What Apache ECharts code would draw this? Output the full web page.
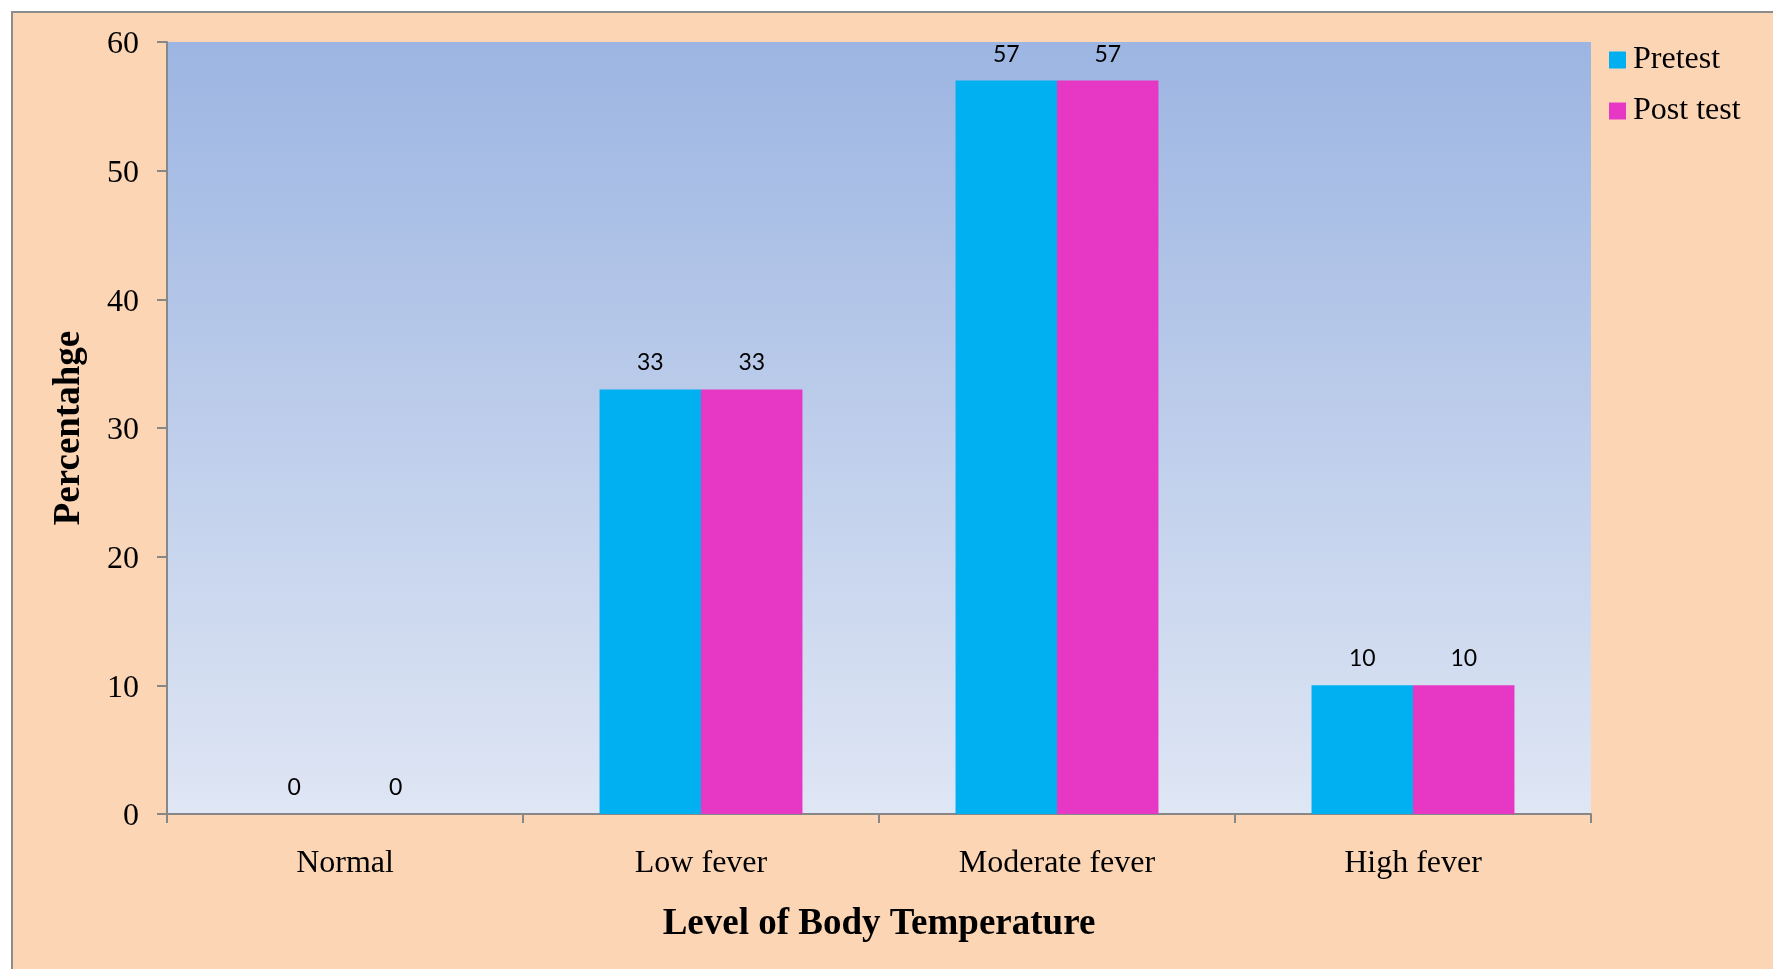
<!DOCTYPE html>
<html>
<head>
<meta charset="utf-8">
<title>Level of Body Temperature</title>
<script src="https://cdn.jsdelivr.net/npm/echarts@6/dist/echarts.min.js"></script>
<style>
  html, body { margin: 0; padding: 0; background: #ffffff; }
  #chart { width: 1773px; height: 969px; }
</style>
</head>
<body>
<div id="chart"></div>
<script>
// Categories of body temperature and the share of subjects (%) in each
const categories = ['Normal', 'Low fever', 'Moderate fever', 'High fever'];
const pretest = [0, 33, 57, 10];
const posttest = [0, 33, 57, 10];
const seriesNames = ['Pretest', 'Post test'];
const yTicks = { min: 0, max: 60, interval: 10 };

const SERIF = '"Liberation Serif", "Times New Roman", serif';
const SANS = 'Lato, "Open Sans", sans-serif';
const AXIS_GRAY = '#878787';

const chart = echarts.init(document.getElementById('chart'), null, { renderer: 'canvas' });

const valueLabel = {
  show: true,
  position: 'top',
  distance: 15,
  color: '#000000',
  fontFamily: SANS,
  fontSize: 23
};

chart.setOption({
  backgroundColor: '#ffffff',
  animation: false,
  graphic: [{
    type: 'rect',
    z: -10,
    silent: true,
    shape: { x: 12, y: 12, width: 1900, height: 1100 },
    style: { fill: '#fcd5b5', stroke: '#8c8c8c', lineWidth: 2 }
  }],
  legend: {
    orient: 'vertical',
    left: 1604,
    top: 39,
    itemWidth: 17,
    itemHeight: 17,
    itemGap: 19,
    icon: 'rect',
    textStyle: {
      fontFamily: SERIF,
      fontSize: 32,
      lineHeight: 32,
      color: '#000000',
      padding: [0, 0, 0, 2]
    },
    data: seriesNames
  },
  grid: {
    left: 167,
    top: 42,
    right: 182,
    bottom: 155,
    show: true,
    borderWidth: 0,
    backgroundColor: new echarts.graphic.LinearGradient(0, 0, 0, 1, [
      { offset: 0, color: '#9cb5e2' },
      { offset: 1, color: '#dfe6f4' }
    ])
  },
  xAxis: {
    type: 'category',
    data: categories,
    name: 'Level of Body Temperature',
    nameLocation: 'middle',
    nameGap: 92,
    nameTextStyle: {
      fontFamily: SERIF,
      fontSize: 37,
      fontWeight: 'bold',
      color: '#000000'
    },
    axisLine: { show: true, lineStyle: { color: AXIS_GRAY, width: 2 } },
    axisTick: { show: true, alignWithLabel: false, length: 9, lineStyle: { color: AXIS_GRAY, width: 2 } },
    axisLabel: {
      margin: 34,
      fontFamily: SERIF,
      fontSize: 32,
      color: '#000000'
    },
    splitLine: { show: false }
  },
  yAxis: {
    type: 'value',
    min: yTicks.min,
    max: yTicks.max,
    interval: yTicks.interval,
    name: 'Percentahge',
    nameLocation: 'middle',
    nameGap: 79,
    nameRotate: 90,
    nameTextStyle: {
      fontFamily: SERIF,
      fontSize: 37,
      fontWeight: 'bold',
      color: '#000000'
    },
    axisLine: { show: true, lineStyle: { color: AXIS_GRAY, width: 2 } },
    axisTick: { show: true, length: 10, lineStyle: { color: AXIS_GRAY, width: 2 } },
    axisLabel: {
      margin: 28,
      formatter: '{v|{value}}',
      rich: {
        v: {
          fontFamily: SERIF,
          fontSize: 32,
          color: '#000000',
          padding: [6, 0, 0, 0]
        }
      }
    },
    splitLine: { show: false }
  },
  series: [
    {
      name: seriesNames[0],
      type: 'bar',
      data: pretest,
      barGap: '0%',
      barCategoryGap: '43%',
      itemStyle: { color: '#00b0f0' },
      label: valueLabel
    },
    {
      name: seriesNames[1],
      type: 'bar',
      data: posttest,
      barGap: '0%',
      barCategoryGap: '43%',
      itemStyle: { color: '#e638c4' },
      label: valueLabel
    }
  ]
});
</script>
</body>
</html>
